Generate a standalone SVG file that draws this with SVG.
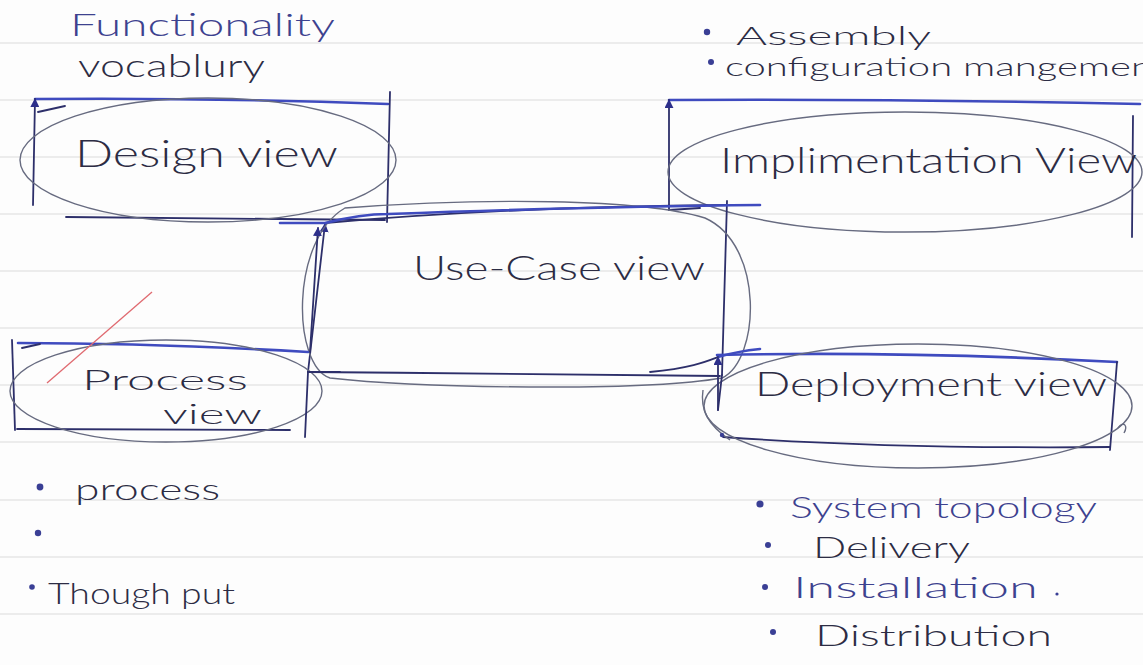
<svg xmlns="http://www.w3.org/2000/svg" width="1143" height="665" viewBox="0 0 1143 665">
  <style>
    .rule { stroke: #dcdcdc; stroke-width: 1.2; fill: none; }
    .edge { stroke: #2d2f6a; stroke-width: 1.8; fill: none; stroke-linecap: round; stroke-linejoin: round; }
    .ink { stroke: #3f4bbf; stroke-width: 2.6; fill: none; stroke-linecap: round; }
    .oval { stroke: #676b80; stroke-width: 1.4; fill: none; }
    .label { font-family: Lato, "Liberation Sans", sans-serif; font-weight: 300; fill: #2c2c44; }
    .blue { fill: #3d428f; }
    .dot { fill: #3a3f95; }
  </style>
  <defs>
    <!-- small pen tick left where a stroke starts -->
    <marker id="tick" viewBox="0 0 10 10" refX="9" refY="5" markerWidth="9" markerHeight="9" orient="auto-start-reverse" markerUnits="userSpaceOnUse">
      <path d="M0,0 L10,5 L0,10 Z" fill="#2d2f8a"/>
    </marker>
  </defs>

  <rect width="1143" height="665" fill="#fdfdfd"/>

  <!-- ruled paper -->
  <g id="paper">
    <path class="rule" d="M0,43 H1143 M0,100 H1143 M0,157 H1143 M0,214 H1143 M0,271 H1143 M0,328 H1143 M0,385 H1143 M0,442 H1143 M0,500 H1143 M0,557 H1143 M0,614 H1143"/>
  </g>

  <!-- Design view -->
  <g id="design-view">
    <text class="label blue" x="70" y="36" font-size="32" textLength="265" lengthAdjust="spacingAndGlyphs">Functionality</text>
    <text class="label" x="78" y="77" font-size="32" textLength="187" lengthAdjust="spacingAndGlyphs">vocablury</text>
    <path class="ink" d="M35,99 C150,98 280,100 388,104"/>
    <path class="edge" d="M38,112 L65,106"/>
    <path class="edge" d="M33,205 L35,99" marker-end="url(#tick)"/>
    <path class="edge" d="M390,92 L387,222"/>
    <path class="edge" d="M66,217 L385,220"/>
    <ellipse class="oval" cx="208" cy="160" rx="188" ry="62"/>
    <text class="label" x="75" y="167" font-size="38" textLength="263" lengthAdjust="spacingAndGlyphs">Design view</text>
  </g>

  <!-- Implimentation view -->
  <g id="implimentation-view">
    <circle class="dot" cx="707" cy="32" r="3.2"/>
    <text class="label" x="736" y="45" font-size="25" textLength="195" lengthAdjust="spacingAndGlyphs">Assembly</text>
    <circle class="dot" cx="711" cy="62" r="3"/>
    <text class="label" x="725" y="76" font-size="25" textLength="428" lengthAdjust="spacingAndGlyphs">configuration mangemen</text>
    <path class="ink" d="M669,100 C850,99 1000,101 1140,104"/>
    <path class="edge" d="M669,210 L669,100" marker-end="url(#tick)"/>
    <path class="edge" d="M1133,116 L1132,237"/>
    <path class="edge" d="M669,210 L700,208"/>
    <ellipse class="oval" cx="905" cy="172" rx="237" ry="60"/>
    <text class="label" x="720" y="173" font-size="36" textLength="417" lengthAdjust="spacingAndGlyphs">Implimentation View</text>
  </g>

  <!-- Use-Case view -->
  <g id="use-case-view">
    <path class="edge" d="M325,224 L308,372" marker-start="url(#tick)"/>
    <path class="edge" d="M727,201 L722,375"/>
    <path class="edge" d="M325,223 C450,212 600,206 727,205"/>
    <path class="edge" d="M308,372 C450,373 600,375 720,376"/>
    <path class="oval" d="M345,208 C480,198 640,198 705,218 C765,245 760,360 722,378 C640,392 420,388 330,378 C292,365 290,240 345,208 Z"/>
    <text class="label" x="413" y="280" font-size="34" textLength="292" lengthAdjust="spacingAndGlyphs">Use-Case view</text>
  </g>

  <!-- Process view -->
  <g id="process-view">
    <path class="ink" d="M18,343 C120,343 220,347 308,352" stroke-width="2.2"/>
    <path class="edge" d="M15,430 L12,340"/>
    <path class="edge" d="M22,348 L40,344"/>
    <path class="edge" d="M17,429 L290,430"/>
    <ellipse class="oval" cx="166" cy="391" rx="156" ry="51"/>
    <path d="M47,383 L152,292" stroke="#e06a70" stroke-width="1.3" fill="none"/>
    <text class="label" x="82" y="390" font-size="28" textLength="166" lengthAdjust="spacingAndGlyphs">Process</text>
    <text class="label" x="163" y="424" font-size="28" textLength="99" lengthAdjust="spacingAndGlyphs">view</text>
    <circle class="dot" cx="40" cy="487" r="3.4"/>
    <text class="label" x="75" y="500" font-size="30" textLength="145" lengthAdjust="spacingAndGlyphs">process</text>
    <circle class="dot" cx="38" cy="533" r="3.2"/>
    <circle class="dot" cx="32" cy="587" r="2.8"/>
    <text class="label" x="48" y="604" font-size="30" textLength="187" lengthAdjust="spacingAndGlyphs">Though put</text>
  </g>

  <!-- Deployment view -->
  <g id="deployment-view">
    <path class="ink" d="M717,355 C850,352 1000,356 1117,362" stroke-width="2.2"/>
    <path class="edge" d="M1117,362 L1110,450"/>
    <path class="edge" d="M723,437 C850,446 1000,448 1110,447" stroke="#55597a" stroke-width="1.3"/>
    <path class="oval" d="M703,390 C700,410 708,425 730,440"/>
    <ellipse class="oval" cx="918" cy="406" rx="214" ry="62"/>
    <path class="oval" d="M1118,428 C1124,420 1128,426 1124,433"/>
    <circle class="dot" cx="722" cy="435" r="2.2"/>
    <text class="label" x="755" y="396" font-size="34" textLength="352" lengthAdjust="spacingAndGlyphs">Deployment view</text>
    <circle class="dot" cx="760" cy="504" r="3.6"/>
    <text class="label blue" x="790" y="518" font-size="30" textLength="307" lengthAdjust="spacingAndGlyphs">System topology</text>
    <circle class="dot" cx="768" cy="545" r="3"/>
    <text class="label" x="813" y="558" font-size="30" textLength="157" lengthAdjust="spacingAndGlyphs">Delivery</text>
    <circle class="dot" cx="765" cy="587" r="3"/>
    <text class="label blue" x="793" y="598" font-size="30" textLength="245" lengthAdjust="spacingAndGlyphs">Installation</text>
    <circle class="dot" cx="1057" cy="594" r="1.6"/>
    <circle class="dot" cx="773" cy="632" r="3"/>
    <text class="label" x="815" y="646" font-size="30" textLength="237" lengthAdjust="spacingAndGlyphs">Distribution</text>
  </g>

  <!-- links between the use-case view and the surrounding views -->
  <g id="connectors">
    <path class="ink" d="M280,223 L325,223 C345,218 365,214 388,214 C500,210 640,206 760,205" stroke-width="2"/>
    <path class="edge" d="M308,372 L305,437"/>
    <path class="edge" d="M310,352 L318,228" marker-end="url(#tick)"/>
    <path class="edge" d="M308,372 L340,372"/>
    <path class="edge" d="M722,375 L718,410"/>
    <path class="edge" d="M718,410 L718,357" marker-end="url(#tick)"/>
    <path class="ink" d="M718,357 C735,352 750,350 760,349" stroke-width="2"/>
    <path class="edge" d="M650,372 C690,368 705,362 718,357" stroke="#55597a" stroke-width="1.3"/>
  </g>
</svg>
